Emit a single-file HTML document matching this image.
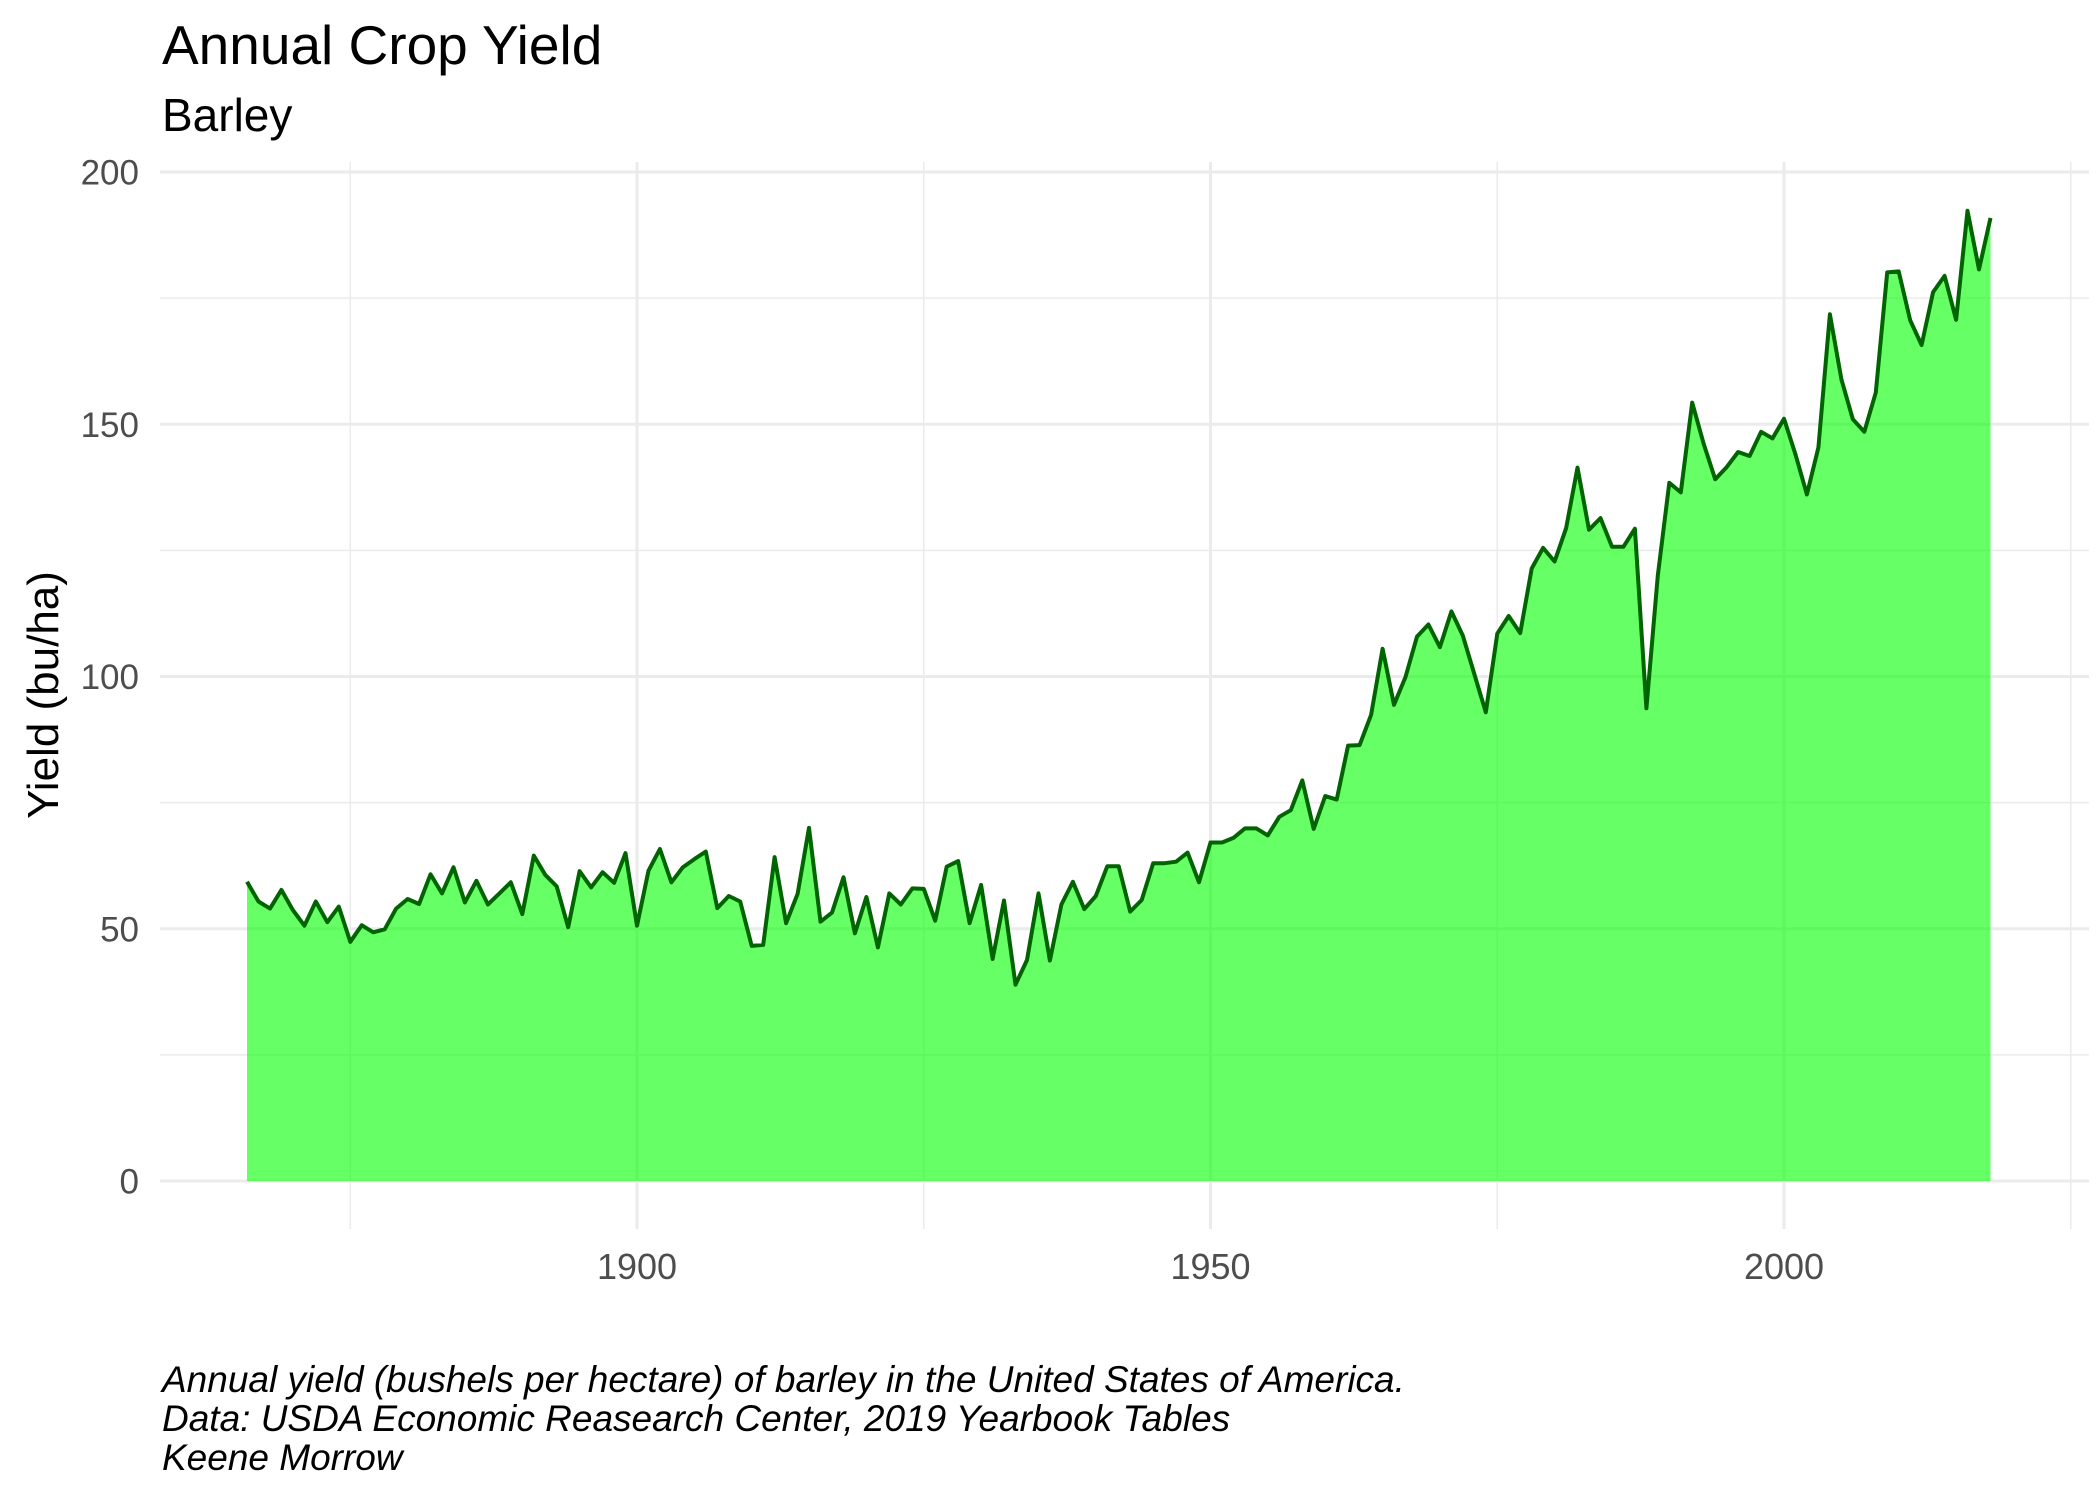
<!DOCTYPE html>
<html><head><meta charset="utf-8"><title>Annual Crop Yield - Barley</title>
<style>
html,body{margin:0;padding:0;background:#fff;}
svg{display:block;font-family:"Liberation Sans",sans-serif;}
</style></head>
<body>
<svg id="chart" width="2100" height="1500" viewBox="0 0 2100 1500" xmlns="http://www.w3.org/2000/svg">
<text x="162" y="64" font-size="55" fill="#000">Annual Crop Yield</text>
<text x="162" y="131" font-size="46" fill="#000">Barley</text>
<g id="grid"></g>
<g id="marks"></g>
<g id="axes"></g>
<text transform="translate(58,695) rotate(-90)" text-anchor="middle" font-size="44" fill="#000">Yield (bu/ha)</text>
<g font-size="37" font-style="italic" fill="#000">
<text x="162" y="1392">Annual yield (bushels per hectare) of barley in the United States of America.</text>
<text x="162" y="1431">Data: USDA Economic Reasearch Center, 2019 Yearbook Tables</text>
<text x="162" y="1470">Keene Morrow</text>
</g>
</svg>
<script>
const startYear = 1866;
const yields = [59.3,55.4,54.0,57.7,53.7,50.6,55.4,51.3,54.4,
47.4,50.7,49.3,49.9,54.0,55.9,54.9,60.8,57.0,62.2,55.2,
59.5,54.8,57.0,59.2,52.9,
64.5,60.7,58.4,50.3,61.4,58.2,61.2,59.1,65.0,
50.6,61.5,65.8,59.2,62.2,63.8,65.3,54.1,56.5,55.4,
46.6,46.8,64.2,51.1,56.9,70.0,51.4,53.2,60.2,49.1,
56.3,46.3,57.0,54.8,58.0,57.9,51.6,62.3,63.4,51.1,
58.7,44.0,55.6,38.9,43.8,57.0,43.7,54.8,59.3,53.9,
56.5,62.4,62.4,53.4,55.7,63.0,63.0,63.3,65.1,59.2,
67.1,67.1,68.0,69.9,69.9,68.5,72.2,73.5,79.4,69.8,
76.3,75.6,86.3,86.4,92.4,105.5,94.4,99.9,107.9,110.3,
105.8,112.9,108.1,100.5,92.9,108.5,112.0,108.6,121.4,125.5,
122.8,129.4,141.4,129.1,131.4,125.7,125.7,129.3,93.7,120.0,
138.4,136.5,154.3,146.1,139.1,141.5,144.5,143.7,148.5,147.2,
151.1,144.0,136.1,145.4,171.8,158.9,151.0,148.5,156.3,180.1,
180.3,170.6,165.7,176.2,179.4,170.7,192.3,180.7,190.9];
const yTicks = [0,50,100,150,200];
const yMinor = [25,75,125,175];
const xTicks = [1900,1950,2000];
const xMinor = [1875,1925,1975,2025];

const NS = "http://www.w3.org/2000/svg";
const panel = {l:160, r:2089, t:162, b:1229};
function xs(yr){ return 637 + (yr - 1900) * 11.47; }
function ys(v){ return 1181 - v * 5.045; }
function mk(tag, attrs, parent){
  const e = document.createElementNS(NS, tag);
  for (const k in attrs) e.setAttribute(k, attrs[k]);
  parent.appendChild(e);
  return e;
}
const grid = document.getElementById('grid');
const marks = document.getElementById('marks');
const axes = document.getElementById('axes');

yMinor.forEach(v => {
  const l = mk('line', {x1:panel.l, x2:panel.r, y1:ys(v), y2:ys(v), stroke:'#ebebeb', 'stroke-width':1.5}, grid);
  
  
});
xMinor.forEach(v => {
  const l = mk('line', {x1:xs(v), x2:xs(v), y1:panel.t, y2:panel.b, stroke:'#ebebeb', 'stroke-width':1.5}, grid);
  
  
});
yTicks.forEach(v => {
  const l = mk('line', {x1:panel.l, x2:panel.r, y1:ys(v), y2:ys(v), stroke:'#ebebeb', 'stroke-width':3}, grid);
  
  
  const t = mk('text', {x:139, y:ys(v)+12.5, 'text-anchor':'end', 'font-size':35, fill:'#4d4d4d'}, axes);
  t.textContent = v;
  
  
});
xTicks.forEach(v => {
  const l = mk('line', {x1:xs(v), x2:xs(v), y1:panel.t, y2:panel.b, stroke:'#ebebeb', 'stroke-width':3}, grid);
  
  
  const t = mk('text', {x:xs(v), y:1279, 'text-anchor':'middle', 'font-size':36, fill:'#4d4d4d'}, axes);
  t.textContent = v;
  
  
});

const pts = yields.map((v,i) => [xs(startYear + i), ys(v)]);
let d = 'M' + pts[0][0].toFixed(1) + ',' + ys(0).toFixed(1);
pts.forEach(p => { d += ' L' + p[0].toFixed(1) + ',' + p[1].toFixed(1); });
d += ' L' + pts[pts.length-1][0].toFixed(1) + ',' + ys(0).toFixed(1) + ' Z';
const area = mk('path', {d:d, fill:'#00ff00', 'fill-opacity':0.6, stroke:'none'}, marks);


const line = mk('polyline', {points: pts.map(p => p[0].toFixed(1)+','+p[1].toFixed(1)).join(' '), fill:'none', stroke:'#006400', 'stroke-width':4, 'stroke-linejoin':'round'}, marks);


</script>
</body></html>
